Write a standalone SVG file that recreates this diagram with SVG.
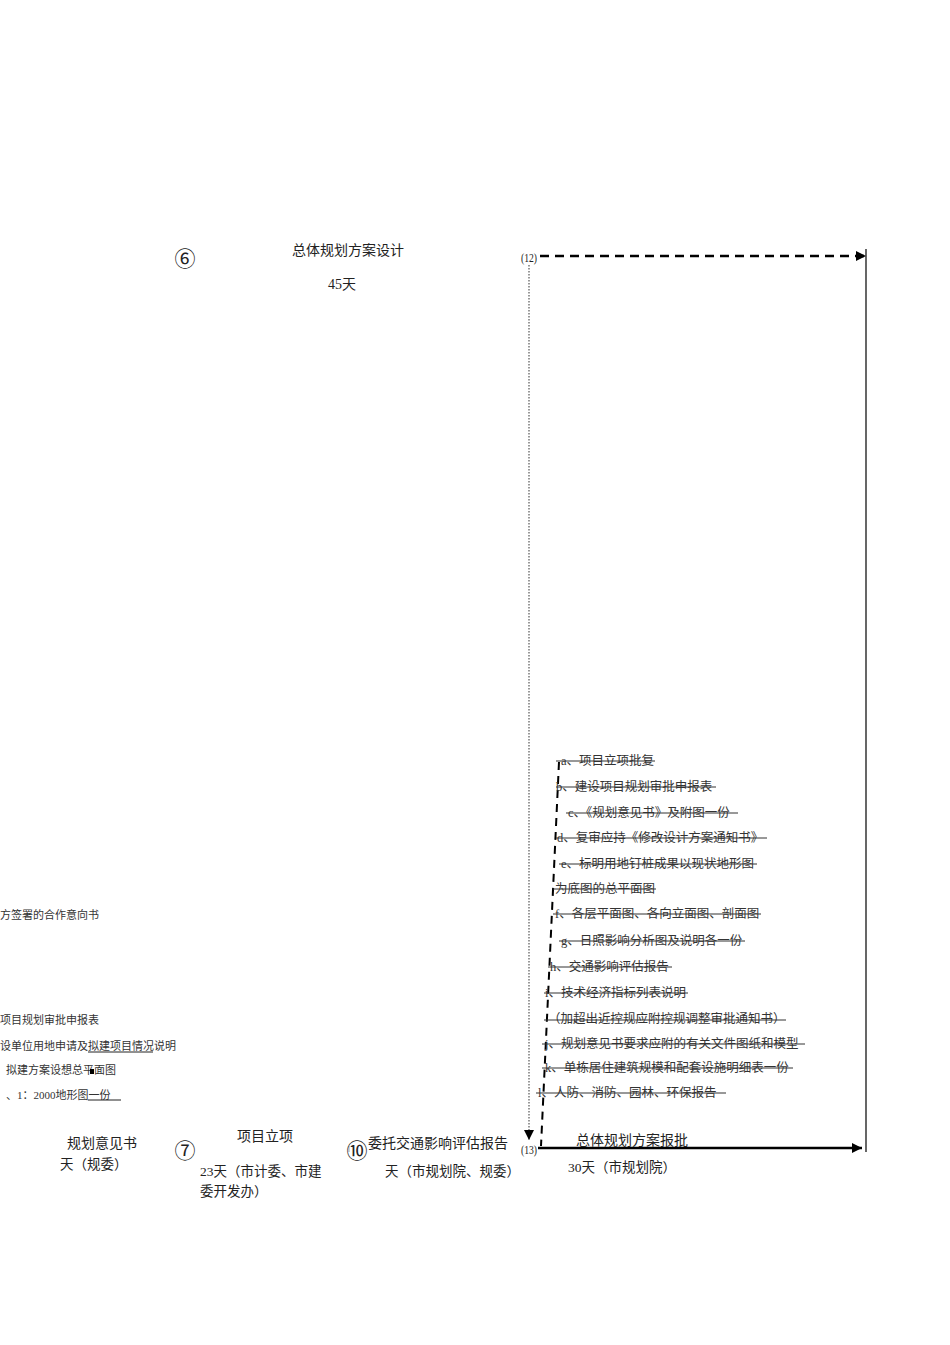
<svg xmlns="http://www.w3.org/2000/svg" width="950" height="1345" viewBox="0 0 950 1345">
<style>
text{font-family:"Liberation Serif","Noto Sans CJK SC",serif;fill:#222}
.t14{font-size:14px}
.t13{font-size:13.5px}
.t12{font-size:12.5px;fill:#333}
.t11{font-size:11px;fill:#333}
.circ{font-size:21px;font-family:"Noto Sans CJK SC","DejaVu Sans",sans-serif}
.num{font-size:13px}
.strike{stroke:#333;stroke-width:1}
</style>
<defs>
<marker id="ah" viewBox="0 0 10 10" refX="10" refY="5" markerWidth="4" markerHeight="4" orient="auto" markerUnits="strokeWidth">
<path d="M0,0 L10,5 L0,10 z" fill="#000"/>
</marker>
<marker id="ahs" viewBox="0 0 10 10" refX="10" refY="5" markerWidth="10" markerHeight="10" orient="auto" markerUnits="userSpaceOnUse">
<path d="M0,0 L10,5 L0,10 z" fill="#000"/>
</marker>
</defs>

<g id="connectors">
<line x1="540" y1="256" x2="866" y2="256" stroke="#000" stroke-width="2.5" stroke-dasharray="9,6" marker-end="url(#ah)"/>
<line x1="866" y1="249" x2="866" y2="1152" stroke="#000" stroke-width="1.2"/>
<line x1="529" y1="265" x2="529" y2="1140" stroke="#555" stroke-width="1.2" stroke-dasharray="1.5,1.5" marker-end="url(#ahs)"/>
<line x1="559" y1="762" x2="541" y2="1146" stroke="#000" stroke-width="2" stroke-dasharray="8,6"/>
<line x1="538" y1="1148" x2="862" y2="1148" stroke="#000" stroke-width="2.5" marker-end="url(#ah)"/>
<line x1="349" y1="1146" x2="349" y2="1152" stroke="#aaa" stroke-width="1"/>
</g>

<g id="node-6">
<text class="circ" x="185" y="266" text-anchor="middle">⑥</text>
<text class="t14" x="348" y="255" text-anchor="middle">总体规划方案设计</text>
<text class="t14" x="342" y="289" text-anchor="middle">45天</text>
</g>

<g id="node-12">
<text class="num" x="521" y="262" textLength="16" lengthAdjust="spacingAndGlyphs">(12)</text>
</g>

<g id="node-13">
<text class="num" x="521" y="1154" textLength="16" lengthAdjust="spacingAndGlyphs">(13)</text>
<text class="t14" x="576" y="1145">总体规划方案报批</text>
<text class="t13" x="568" y="1172">30天（市规划院）</text>
</g>

<g id="list">
<text class="t12" x="561" y="765">a、项目立项批复</text>
<line class="strike" x1="556" y1="761" x2="655" y2="761"/>
<text class="t12" x="556" y="791">b、建设项目规划审批申报表</text>
<line class="strike" x1="556" y1="787" x2="716" y2="787"/>
<text class="t12" x="568" y="817">c、《规划意见书》及附图一份</text>
<line class="strike" x1="566" y1="813" x2="738" y2="813"/>
<text class="t12" x="557" y="842">d、复审应持《修改设计方案通知书》</text>
<line class="strike" x1="556" y1="838" x2="767" y2="838"/>
<text class="t12" x="561" y="868">e、标明用地钉桩成果以现状地形图</text>
<line class="strike" x1="559" y1="864" x2="757" y2="864"/>
<text class="t12" x="555" y="893">为底图的总平面图</text>
<line class="strike" x1="553" y1="889" x2="656" y2="889"/>
<text class="t12" x="555" y="918">f、各层平面图、各向立面图、剖面图</text>
<line class="strike" x1="553" y1="914" x2="761" y2="914"/>
<text class="t12" x="561" y="945">g、日照影响分析图及说明各一份</text>
<line class="strike" x1="559" y1="941" x2="745" y2="941"/>
<text class="t12" x="550" y="971">h、交通影响评估报告</text>
<line class="strike" x1="548" y1="967" x2="672" y2="967"/>
<text class="t12" x="545" y="997">i、技术经济指标列表说明</text>
<line class="strike" x1="544" y1="993" x2="688" y2="993"/>
<text class="t12" x="548" y="1023">（加超出近控规应附控规调整审批通知书）</text>
<line class="strike" x1="544" y1="1020" x2="786" y2="1020"/>
<text class="t12" x="545" y="1048">j、规划意见书要求应附的有关文件图纸和模型</text>
<line class="strike" x1="542" y1="1044" x2="805" y2="1044"/>
<text class="t12" x="545" y="1072">k、单栋居住建筑规模和配套设施明细表一份</text>
<line class="strike" x1="542" y1="1068" x2="793" y2="1068"/>
<text class="t12" x="538" y="1097">l、人防、消防、园林、环保报告</text>
<line class="strike" x1="536" y1="1093" x2="726" y2="1093"/>
</g>

<g id="left-list">
<text class="t11" x="0" y="919">方签署的合作意向书</text>
<text class="t11" x="0" y="1024">项目规划审批申报表</text>
<text class="t11" x="0" y="1050">设单位用地申请及拟建项目情况说明</text>
<line x1="88" y1="1052" x2="153" y2="1052" stroke="#222" stroke-width="1"/>
<text class="t11" x="6" y="1074">拟建方案设想总平面图</text>
<rect x="90" y="1069" width="4" height="5" fill="#000"/>
<text class="t11" x="6" y="1099">、1：2000地形图一份</text>
<line x1="88" y1="1100" x2="121" y2="1100" stroke="#222" stroke-width="1"/>
</g>

<g id="node-yijianshu">
<text class="t14" x="67" y="1148">规划意见书</text>
<text class="t13" x="60" y="1169">天（规委）</text>
</g>

<g id="node-7">
<text class="circ" x="185" y="1158" text-anchor="middle">⑦</text>
<text class="t14" x="237" y="1141">项目立项</text>
<text class="t13" x="200" y="1176">23天（市计委、市建</text>
<text class="t13" x="200" y="1196">委开发办）</text>
</g>

<g id="node-10">
<text class="circ" x="357" y="1158" text-anchor="middle">⑩</text>
<text class="t14" x="368" y="1148">委托交通影响评估报告</text>
<text class="t13" x="385" y="1176">天（市规划院、规委）</text>
</g>
</svg>
